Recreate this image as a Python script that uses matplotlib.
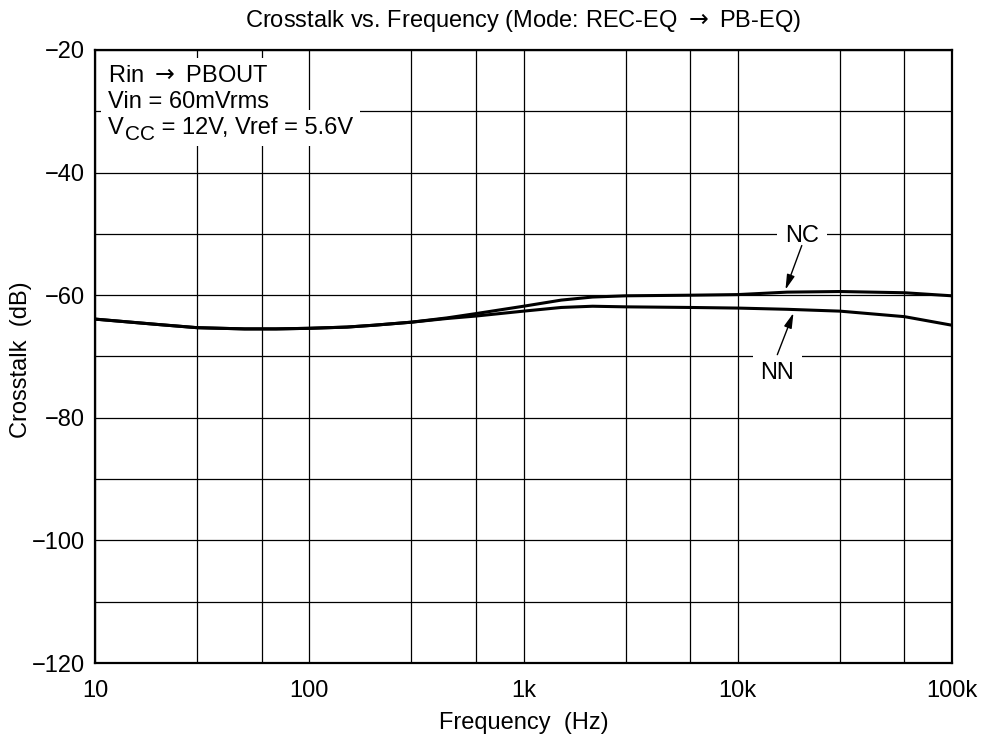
import matplotlib
matplotlib.use("Agg")
import matplotlib.pyplot as plt
from matplotlib.transforms import offset_copy

plt.rcParams['font.family'] = ['Liberation Sans', 'DejaVu Sans']
plt.rcParams['mathtext.fontset'] = 'dejavusans'

# Data
freq = [10, 20, 30, 50, 70, 100, 150, 200, 300, 440, 600, 1000, 1500, 2100,
        3000, 6000, 10000, 17000, 30000, 60000, 100000]
nc = [-63.9, -64.8, -65.3, -65.5, -65.5, -65.4, -65.2, -64.9, -64.4, -63.7,
      -63.0, -61.8, -60.8, -60.3, -60.1, -60.0, -59.9, -59.5, -59.4, -59.6, -60.1]
nn = [-63.9, -64.8, -65.3, -65.5, -65.5, -65.4, -65.2, -64.9, -64.4, -63.8,
      -63.4, -62.6, -62.0, -61.8, -61.9, -62.0, -62.1, -62.3, -62.6, -63.5, -64.9]

x_major = [10, 100, 1000, 10000, 100000]
x_labels = ["10", "100", "1k", "10k", "100k"]
x_minor = [30, 60, 300, 600, 3000, 6000, 30000, 60000]
y_major = [-120, -100, -80, -60, -40, -20]
y_minor = [-110, -90, -70, -50, -30]

title = r"Crosstalk vs. Frequency (Mode: REC-EQ ${\rightarrow}$ PB-EQ)"
info_line1 = r"Rin ${\rightarrow}$ PBOUT"
info_line2 = "Vin = 60mVrms"
info_v, info_sub, info_rest = "V", "CC", " = 12V, Vref = 5.6V"

FS = 17
fig = plt.figure(figsize=(9.88, 7.37), dpi=100)
ax = fig.add_axes([95/988, 1-663/737, 857/988, 613/737])

ax.set_xscale('log')
ax.set_xlim(10, 100000)
ax.set_ylim(-120, -20)
ax.set_xticks(x_major)
ax.set_xticklabels(x_labels)
ax.set_xticks(x_minor, minor=True)
ax.set_xticklabels([], minor=True)
ax.set_yticks(y_major)
ax.set_yticks(y_minor, minor=True)
ax.tick_params(which='both', length=0, labelsize=FS, colors='black')
ax.tick_params(axis='x', pad=12)
ax.tick_params(axis='y', pad=7)
ax.grid(True, which='both', color='black', linewidth=0.9, zorder=0)
ax.set_axisbelow(True)
for s in ax.spines.values():
    s.set_linewidth(1.6)

ax.plot(freq, nc, color='black', linewidth=2.2, zorder=3)
ax.plot(freq, nn, color='black', linewidth=2.2, zorder=3)

ax.set_title(title, fontsize=FS, pad=16.3)
ax.set_xlabel("Frequency  (Hz)", fontsize=FS)
ax.xaxis.set_label_coords(0.5, -(711.7-663)/613)
fig.text(21.5/988, 1-359.5/737, "Crosstalk  (dB)", fontsize=FS, rotation=90,
         ha='center', va='center')

box = dict(boxstyle='square,pad=0.3', facecolor='white', edgecolor='none')
x0 = (108.3-95)/857
ax.text(x0, 1-31.7/613, info_line1, transform=ax.transAxes, fontsize=FS,
        ha='left', va='baseline', bbox=box, zorder=4)
ax.text(x0, 1-58.3/613, info_line2, transform=ax.transAxes, fontsize=FS,
        ha='left', va='baseline', bbox=box, zorder=4)
y3 = 1-84/613
tv = ax.text(x0, y3, info_v, transform=ax.transAxes, fontsize=FS,
             ha='left', va='baseline', bbox=box, zorder=4)
fig.canvas.draw()
r = fig.canvas.get_renderer()
wv = tv.get_window_extent(r).width
ts = ax.text(x0, y3, info_sub, fontsize=15, ha='left', va='baseline', zorder=5,
             transform=offset_copy(ax.transAxes, fig=fig, x=wv+0.5, y=-6, units='dots'),
             bbox=dict(boxstyle='square,pad=0.1', facecolor='white', edgecolor='none'))
fig.canvas.draw()
ws = ts.get_window_extent(r).width
ax.text(x0, y3, info_rest, fontsize=FS, ha='left', va='baseline', zorder=4,
        transform=offset_copy(ax.transAxes, fig=fig, x=wv+0.5+ws, y=0, units='dots'),
        bbox=box)

lbox = dict(boxstyle='square,pad=0.33', facecolor='white', edgecolor='none')
ax.text(19900, -51.24, "NC", fontsize=FS, ha='center', va='baseline', bbox=lbox, zorder=4)
ax.text(15300, -73.65, "NN", fontsize=FS, ha='center', va='baseline', bbox=lbox, zorder=4)
arr = dict(arrowstyle='-|>,head_length=0.75,head_width=0.2', color='black', lw=1.0,
           shrinkA=0, shrinkB=0, mutation_scale=12)
ax.annotate("", xy=(16700, -59.1), xytext=(19900, -51.9), arrowprops=arr, zorder=5)
ax.annotate("", xy=(18200, -62.9), xytext=(15300, -69.7), arrowprops=arr, zorder=5)

fig.savefig("out.png", dpi=100)
